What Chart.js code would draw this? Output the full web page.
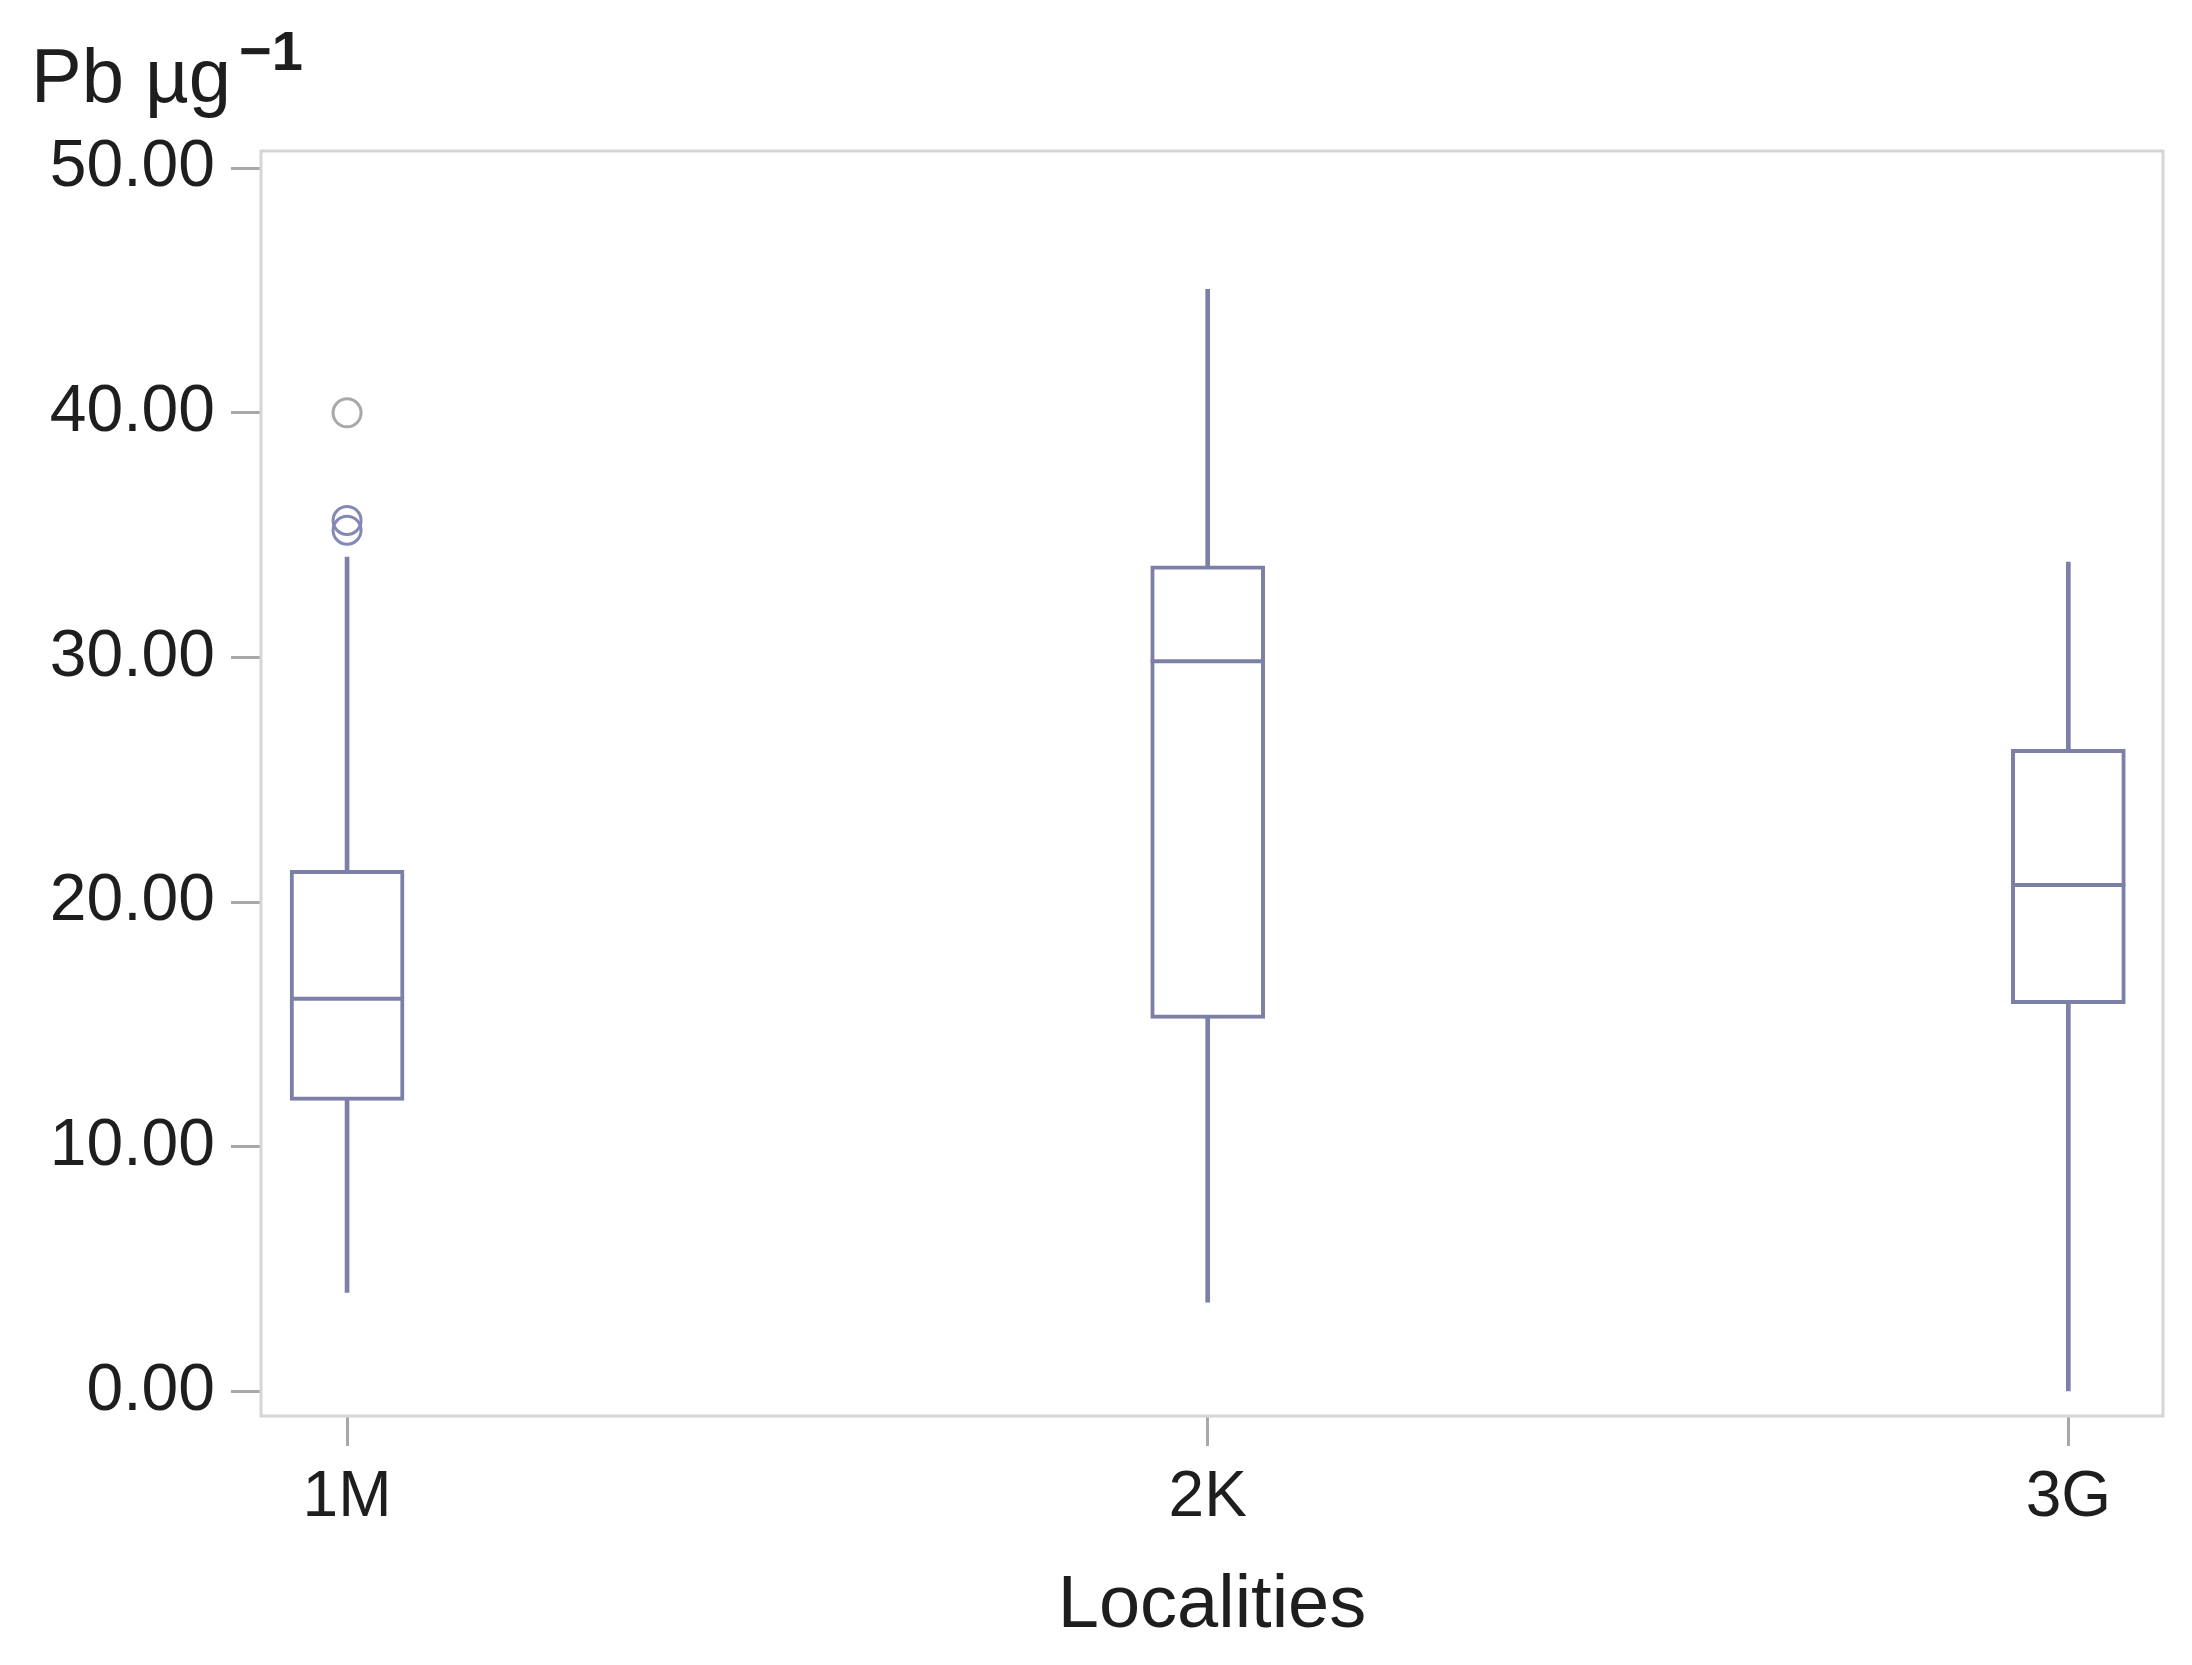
<!DOCTYPE html>
<html>
<head>
<meta charset="utf-8">
<script src="https://cdn.jsdelivr.net/npm/chart.js@4/dist/chart.umd.min.js"></script>
<style>
  html, body { margin:0; padding:0; background:#fff; }
  #wrap { width:2192px; height:1665px; }
</style>
</head>
<body>
<div id="wrap"><canvas id="boxChart" width="2192" height="1665"></canvas></div>
<script>
// =========================
// DATA
// =========================

const categories = ["1M", "2K", "3G"];

const whiskerLow  = [4.05, 3.65, 0.0];
const q1          = [11.9, 15.25, 15.85];
const median      = [16.05, 29.85, 20.7];
const q3          = [21.3, 33.75, 26.25];
const whiskerHigh = [34.1, 45.05, 33.9];

// outliers (only 1M has some)
const farOutX = [1];
const farOutY = [40.0];
const outX = [1, 1];
const outY = [35.6, 35.2];

const yTicks = [0, 10, 20, 30, 40, 50];

const yTitle = "Pb µg";
const ySup = "\u22121";
const xTitle = "Localities";

// =========================
// STYLE
// =========================

const lineCol = "#7c7fa6";
const frameCol = "#d6d6d6";
const tickCol = "#a8a8a8";
const textCol = "#1e1e1e";
const fontFam = "'Liberation Sans', Arial, sans-serif";

// =========================
// PLUGINS
// =========================

const framePlugin = {
  id: "frame",
  beforeDatasetsDraw(chart){
    const {ctx, chartArea:a} = chart;
    ctx.save();
    ctx.strokeStyle = frameCol;
    ctx.lineWidth = 3;
    ctx.strokeRect(a.left, a.top, a.right - a.left, a.bottom - a.top);
    ctx.restore();
  }
};

const unitPlugin = {
  id: "unitTitle",
  afterDraw(chart){
    const ctx = chart.ctx;
    ctx.save();
    ctx.fillStyle = textCol;
    ctx.textBaseline = "alphabetic";
    ctx.textAlign = "left";
    ctx.font = "76px " + fontFam;
    ctx.fillText(yTitle, 31, 102);
    const w = ctx.measureText(yTitle).width;
    ctx.font = "bold 56px " + fontFam;
    ctx.fillText(ySup, 31 + w + 8, 70);
    ctx.restore();
  }
};

// =========================
// CHART
// =========================

const pos = categories.map((c, i) => i + 1);

const whiskerData = pos.map((x, i) => ({x: x, y: [whiskerLow[i], whiskerHigh[i]]}));
const boxData = pos.map((x, i) => ({x: x, y: [q1[i], q3[i]]}));
const medianData = pos.map((x, i) => ({x: x, y: median[i]}));

new Chart(document.getElementById("boxChart"), {
  type: "bar",
  data: {
    datasets: [
      {
        label: "whiskers",
        data: whiskerData,
        backgroundColor: lineCol,
        borderWidth: 0,
        barThickness: 4,
        grouped: false,
        order: 3
      },
      {
        label: "box",
        data: boxData,
        backgroundColor: "#ffffff",
        borderColor: lineCol,
        borderWidth: 4,
        borderSkipped: false,
        barThickness: 114,
        grouped: false,
        order: 2
      },
      {
        type: "scatter",
        label: "median",
        data: medianData,
        pointStyle: "line",
        pointRadius: 57,
        pointBorderWidth: 4,
        pointBorderColor: lineCol,
        order: 1
      },
      {
        type: "scatter",
        label: "far outliers",
        data: farOutX.map((x, i) => ({x: x, y: farOutY[i]})),
        pointStyle: "circle",
        pointRadius: 14,
        pointBorderWidth: 3,
        pointBorderColor: "#a9a9a9",
        pointBackgroundColor: "rgba(255,255,255,0)",
        order: 0
      },
      {
        type: "scatter",
        label: "outliers",
        data: outX.map((x, i) => ({x: x, y: outY[i]})),
        pointStyle: "circle",
        pointRadius: 14,
        pointBorderWidth: 3,
        pointBorderColor: "#8588b4",
        pointBackgroundColor: "rgba(255,255,255,0)",
        order: 0
      }
    ]
  },
  options: {
    responsive: false,
    animation: false,
    devicePixelRatio: 1,
    layout: {
      autoPadding: false, // the wide median "points" would push the right edge in
      padding: { top: 151, right: 29, bottom: 0, left: 0 }
    },
    plugins: {
      legend: { display: false },
      tooltip: { enabled: false }
    },
    scales: {
      x: {
        type: "linear",
        offset: false,
        min: 0.9,
        max: 3.11,
        afterBuildTicks(scale){
          scale.ticks = pos.map(v => ({value: v}));
        },
        afterFit(scale){
          scale.height = 249;
          scale.paddingLeft = 0;
          scale.paddingRight = 0;
        },
        ticks: {
          color: textCol,
          font: { family: fontFam, size: 64 },
          padding: 14,
          maxRotation: 0,
          callback: v => categories[v - 1]
        },
        grid: {
          offset: false,
          drawOnChartArea: false,
          drawTicks: true,
          tickLength: 30,
          tickWidth: 3,
          tickColor: tickCol
        },
        border: { display: false },
        title: {
          display: true,
          text: xTitle,
          color: textCol,
          font: { family: fontFam, size: 74 },
          padding: { top: 0, bottom: 14 }
        }
      },
      y: {
        min: -1,
        max: 50.7,
        afterBuildTicks(scale){
          scale.ticks = yTicks.map(v => ({value: v}));
        },
        afterFit(scale){ scale.width = 261; },
        ticks: {
          color: textCol,
          font: { family: fontFam, size: 66 },
          padding: 16,
          callback: v => Number(v).toFixed(2)
        },
        grid: {
          drawOnChartArea: false,
          drawTicks: true,
          tickLength: 30,
          tickWidth: 3,
          tickColor: tickCol
        },
        border: { display: false }
      }
    }
  },
  plugins: [framePlugin, unitPlugin]
});
</script>
</body>
</html>
